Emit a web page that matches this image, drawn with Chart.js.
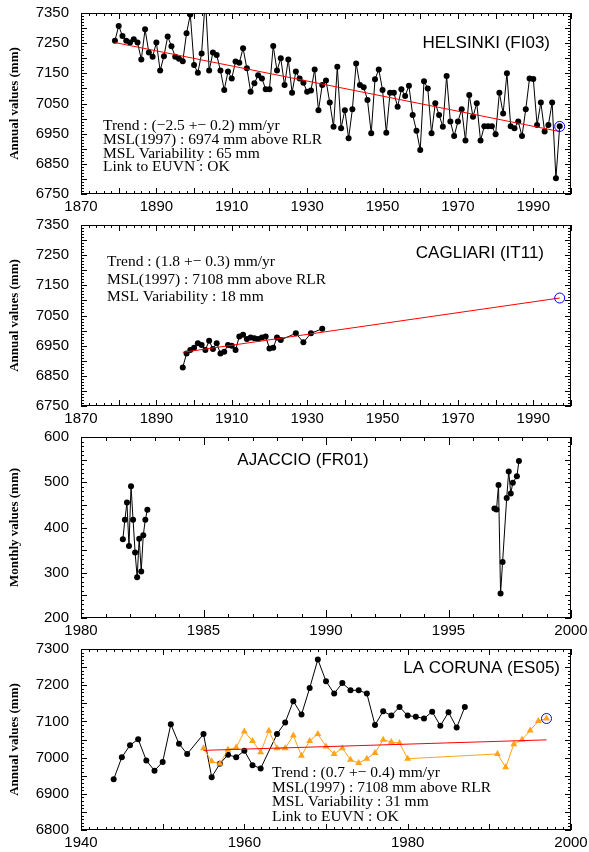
<!DOCTYPE html>
<html lang="en">
<head>
<meta charset="UTF-8" />
<title>Annual sea level - four stations</title>
<script src="https://cdn.jsdelivr.net/npm/chart.js"></script>
<style>
  html, body { margin: 0; padding: 0; background: #fff; overflow: hidden; }
  #wrap { position: relative; width: 589px; height: 852px; }
  #wrap canvas { position: absolute; left: 0; }
</style>
</head>
<body>
<div id="wrap">
  <canvas id="c1" width="589" height="230" style="top:0px"></canvas>
  <canvas id="c2" width="589" height="230" style="top:212px"></canvas>
  <canvas id="c3" width="589" height="230" style="top:424px"></canvas>
  <canvas id="c4" width="589" height="230" style="top:636px"></canvas>
</div>

<script>
// ---- Helsinki (FI03), annual values from 1879 ----
const helsinkiStart = 1879;
const helsinkiValues = [
  7258,
  7307, 7274, 7258, 7252, 7263, 7252, 7196, 7296, 7219, 7205,
  7252, 7159, 7207, 7272, 7240, 7205, 7198, 7190, 7283, 7345,
  7178, 7152, 7216, 7400, 7159, 7219, 7211, 7159, 7095, 7156,
  7133, 7189, 7185, 7233, 7167, 7089, 7117, 7144, 7133, 7097,
  7097, 7241, 7159, 7200, 7111, 7196, 7086, 7156, 7133, 7119,
  7089, 7093, 7163, 7028, 7111, 7126, 7053, 6973, 7172, 6968,
  7028, 6935, 7031, 7183, 7111, 7104, 7062, 6951, 7130, 7163,
  7095, 6953, 7086, 7086, 7039, 7097, 7075, 7109, 7012, 6960,
  6896, 7124, 7100, 6951, 7051, 7012, 6973, 7141, 6990, 6942,
  6990, 7031, 6927, 7078, 7006, 7051, 6927, 6975, 6975, 6975,
  6948, 7086, 7017, 7150, 6975, 6968, 6990, 6942, 7031, 7133,
  7131, 6979, 7053, 6957, 6979, 7053, 6802, 6975
];
const helsinkiTrendYears = [1879, 1997];
const helsinkiTrendValues = [7252, 6957];
const helsinkiMsl = [1997, 6974];

// ---- Cagliari (IT11) ----
const cagliariYears = [1897, 1898, 1899, 1900, 1901, 1902, 1903, 1904, 1905, 1906, 1907, 1908, 1909, 1910,
  1911, 1912, 1913, 1914, 1915, 1916, 1917, 1918, 1919, 1920, 1921, 1922, 1923, 1927, 1929, 1931, 1934];
const cagliariValues = [6878, 6924, 6936, 6943, 6958, 6952, 6936, 6966, 6939, 6958, 6924, 6930, 6952, 6950,
  6936, 6980, 6986, 6972, 6977, 6975, 6972, 6977, 6980, 6941, 6943, 6977, 6969, 6991, 6961, 6991, 7006];
const cagliariTrendYears = [1897, 1997];
const cagliariTrendValues = [6928, 7108];
const cagliariMsl = [1997, 7108];

// ---- Ajaccio (FR01), monthly values ----
const ajaccioTimesA = [1981.708, 1981.792, 1981.875, 1981.958, 1982.042, 1982.125, 1982.208,
  1982.292, 1982.375, 1982.458, 1982.542, 1982.625, 1982.708];
const ajaccioValuesA = [374, 417, 455, 359, 491, 417, 345, 290, 375, 303, 383, 417, 439];
const ajaccioTimesB = [1996.875, 1996.958, 1997.042, 1997.125, 1997.208, 1997.375, 1997.458,
  1997.542, 1997.625, 1997.792, 1997.875];
const ajaccioValuesB = [442, 440, 494, 254, 324, 465, 524, 475, 499, 513, 547];

// ---- La Coruna (ES05) ----
const corunaYears = [1944, 1945, 1946, 1947, 1948, 1949, 1950, 1951, 1952, 1953, 1955, 1956, 1957, 1958,
  1959, 1960, 1961, 1962, 1964, 1965, 1966, 1967, 1968, 1969, 1970, 1971, 1972, 1973, 1974, 1975,
  1976, 1977, 1978, 1979, 1980, 1981, 1982, 1983, 1984, 1985, 1986, 1987];
const corunaValues = [6940, 7001, 7034, 7051, 6992, 6964, 6988, 7092, 7038, 7010, 7065, 6946, 6983, 7008,
  7001, 7019, 6979, 6970, 7065, 7097, 7156, 7119, 7192, 7271, 7211, 7177, 7206, 7186, 7186, 7177,
  7090, 7128, 7116, 7140, 7116, 7113, 7108, 7127, 7088, 7125, 7083, 7140];
const corunaAltYears = [1955, 1956, 1957, 1958, 1959, 1960, 1961, 1962, 1963, 1964, 1965, 1966, 1967,
  1968, 1969, 1970, 1971, 1972, 1973, 1974, 1975, 1976, 1977, 1978, 1979, 1980,
  1991, 1992, 1993, 1994, 1995, 1996, 1997];
const corunaAltValues = [7026, 6990, 6983, 7022, 7028, 7072, 7046, 7015, 7074, 7026, 7026, 7061, 7005,
  7046, 7065, 7031, 7010, 7026, 6994, 6985, 6997, 7013, 7049, 7043, 7040, 6997,
  7010, 6973, 7037, 7049, 7075, 7101, 7108];
const corunaTrendYears = [1955, 1997];
const corunaTrendValues = [7020, 7049];
const corunaMsl = [1997, 7108];

// ---- axis labels ----
const longYearTicks = [1870, 1890, 1910, 1930, 1950, 1970, 1990];
const longLevelTicks = [6750, 6850, 6950, 7050, 7150, 7250, 7350];
const monthYearTicks = [1980, 1985, 1990, 1995, 2000];
const monthLevelTicks = [200, 300, 400, 500, 600];
const corunaYearTicks = [1940, 1960, 1980, 2000];
const corunaLevelTicks = [6800, 6900, 7000, 7100, 7200, 7300];

const pts = (xs, ys) => xs.map((x, i) => ({ x: x, y: ys[i] }));

Chart.defaults.font.family = '"Liberation Sans", Arial, sans-serif';
Chart.defaults.color = '#000';

// frame, inward tick marks, station name and notes
const frameAndText = {
  id: 'frameAndText',
  afterDraw(chart, args, o) {
    const { ctx, chartArea: a } = chart;
    const sx = chart.scales.x, sy = chart.scales.y;
    ctx.save();
    ctx.strokeStyle = '#000';
    ctx.lineWidth = 1;
    ctx.strokeRect(a.left + 0.5, a.top + 0.5, a.width - 1, a.height - 1);
    ctx.beginPath();
    o.xMarks.forEach(([step, len]) => {
      for (let v = sx.min; v <= sx.max + 1e-6; v += step) {
        const px = Math.round(sx.getPixelForValue(v)) + 0.5;
        ctx.moveTo(px, a.bottom); ctx.lineTo(px, a.bottom - len);
        ctx.moveTo(px, a.top); ctx.lineTo(px, a.top + len);
      }
    });
    o.yMarks.forEach(([step, len]) => {
      for (let v = sy.min; v <= sy.max + 1e-6; v += step) {
        const py = Math.round(sy.getPixelForValue(v)) + 0.5;
        ctx.moveTo(a.left, py); ctx.lineTo(a.left + len, py);
        ctx.moveTo(a.right, py); ctx.lineTo(a.right - len, py);
      }
    });
    ctx.stroke();

    ctx.fillStyle = '#000';
    ctx.textBaseline = 'middle';
    ctx.font = '17px "Liberation Sans", Arial, sans-serif';
    ctx.textAlign = o.titleAlign;
    ctx.fillText(o.title, o.titleX, o.titleY);

    ctx.font = '15.5px "Liberation Serif", "Times New Roman", serif';
    ctx.textAlign = 'left';
    (o.notes || []).forEach((t, i) => ctx.fillText(t, o.noteX, o.noteY + i * o.noteDy));
    ctx.restore();
  }
};

function makePanel(id, cfg) {
  const tickFont = { size: 15, family: '"Liberation Sans", Arial, sans-serif' };
  return new Chart(document.getElementById(id), {
    type: 'line',
    data: { datasets: cfg.datasets },
    options: {
      responsive: false,
      animation: false,
      devicePixelRatio: 1,
      events: [],
      layout: { padding: { top: 13, right: 18, left: 0, bottom: 0 } },
      plugins: {
        legend: { display: false },
        tooltip: { enabled: false },
        frameAndText: cfg.deco
      },
      scales: {
        x: {
          type: 'linear', min: cfg.xMin, max: cfg.xMax,
          grid: { display: false, drawTicks: false }, border: { display: false },
          afterBuildTicks: s => { s.ticks = cfg.xTicks.map(v => ({ value: v })); },
          afterFit: s => { s.height = 36; s.paddingLeft = 0; s.paddingRight = 0; },
          ticks: { font: tickFont, color: '#000', padding: 4, maxRotation: 0, autoSkip: false,
                   callback: v => String(v) }
        },
        y: {
          type: 'linear', min: cfg.yMin, max: cfg.yMax,
          grid: { display: false, drawTicks: false }, border: { display: false },
          afterBuildTicks: s => { s.ticks = cfg.yTicks.map(v => ({ value: v })); },
          afterFit: s => { s.width = 81; s.paddingTop = 0; s.paddingBottom = 0; },
          ticks: { font: tickFont, color: '#000', padding: 12, autoSkip: false,
                   callback: v => String(v) },
          title: { display: true, text: cfg.yTitle, color: '#000',
                   font: { family: '"Liberation Serif", "Times New Roman", serif', size: 13, weight: 'bold' },
                   padding: { top: 7, bottom: 0 } }
        }
      }
    },
    plugins: [frameAndText]
  });
}

const mslSet = p => ({ data: [{ x: p[0], y: p[1] }], showLine: false, pointStyle: 'circle', pointRadius: 5,
  pointBorderColor: '#0000ff', pointBackgroundColor: 'rgba(0,0,0,0)', pointBorderWidth: 1 });
const trendSet = (xs, ys) => ({ data: pts(xs, ys), borderColor: '#ff0000', borderWidth: 1, pointRadius: 0 });
const blackSet = data => ({ data: data, borderColor: '#000', borderWidth: 1, pointRadius: 3,
  pointBackgroundColor: '#000', pointBorderWidth: 0 });

const helsinkiPts = helsinkiValues.map((v, i) => ({ x: helsinkiStart + i, y: v }));

makePanel('c1', {
  xMin: 1870, xMax: 2000, yMin: 6750, yMax: 7350,
  xTicks: longYearTicks, yTicks: longLevelTicks, yTitle: 'Annual values (mm)',
  datasets: [mslSet(helsinkiMsl), trendSet(helsinkiTrendYears, helsinkiTrendValues), blackSet(helsinkiPts)],
  deco: {
    xMarks: [[2, 3], [10, 6]], yMarks: [[10, 3], [50, 6]],
    title: 'HELSINKI (FI03)', titleAlign: 'right', titleX: 550, titleY: 43,
    notes: ['Trend : (\u22122.5 +\u2212 0.2) mm/yr', 'MSL(1997) : 6974 mm above RLR',
            'MSL Variability : 65 mm', 'Link to EUVN : OK'],
    noteX: 103, noteY: 126, noteDy: 13.8
  }
});

makePanel('c2', {
  xMin: 1870, xMax: 2000, yMin: 6750, yMax: 7350,
  xTicks: longYearTicks, yTicks: longLevelTicks, yTitle: 'Annual values (mm)',
  datasets: [mslSet(cagliariMsl), trendSet(cagliariTrendYears, cagliariTrendValues),
             blackSet(pts(cagliariYears, cagliariValues))],
  deco: {
    xMarks: [[2, 3], [10, 6]], yMarks: [[10, 3], [50, 6]],
    title: 'CAGLIARI (IT11)', titleAlign: 'right', titleX: 544, titleY: 41,
    notes: ['Trend : (1.8 +\u2212 0.3) mm/yr', 'MSL(1997) : 7108 mm above RLR', 'MSL Variability : 18 mm'],
    noteX: 107, noteY: 50, noteDy: 17.5
  }
});

makePanel('c3', {
  xMin: 1980, xMax: 2000, yMin: 200, yMax: 600,
  xTicks: monthYearTicks, yTicks: monthLevelTicks, yTitle: 'Monthly values (mm)',
  datasets: [blackSet(pts(ajaccioTimesA, ajaccioValuesA)), blackSet(pts(ajaccioTimesB, ajaccioValuesB))],
  deco: {
    xMarks: [[1, 4], [5, 8]], yMarks: [[10, 3], [50, 6]],
    title: 'AJACCIO (FR01)', titleAlign: 'center', titleX: 303, titleY: 36,
    notes: []
  }
});

makePanel('c4', {
  xMin: 1940, xMax: 2000, yMin: 6800, yMax: 7300,
  xTicks: corunaYearTicks, yTicks: corunaLevelTicks, yTitle: 'Annual values (mm)',
  datasets: [
    mslSet(corunaMsl),
    trendSet(corunaTrendYears, corunaTrendValues),
    { data: pts(corunaAltYears, corunaAltValues), borderColor: '#ffa31a', borderWidth: 1,
      pointStyle: 'triangle', pointRadius: 4, pointBackgroundColor: '#ffa31a', pointBorderWidth: 0 },
    blackSet(pts(corunaYears, corunaValues))
  ],
  deco: {
    xMarks: [[1, 3], [10, 6]], yMarks: [[10, 3], [50, 6]],
    title: 'LA CORUNA (ES05)', titleAlign: 'right', titleX: 560, titleY: 32,
    notes: ['Trend : (0.7 +\u2212 0.4) mm/yr', 'MSL(1997) : 7108 mm above RLR',
            'MSL Variability : 31 mm', 'Link to EUVN : OK'],
    noteX: 272, noteY: 137, noteDy: 14.6
  }
});
</script>
</body>
</html>
